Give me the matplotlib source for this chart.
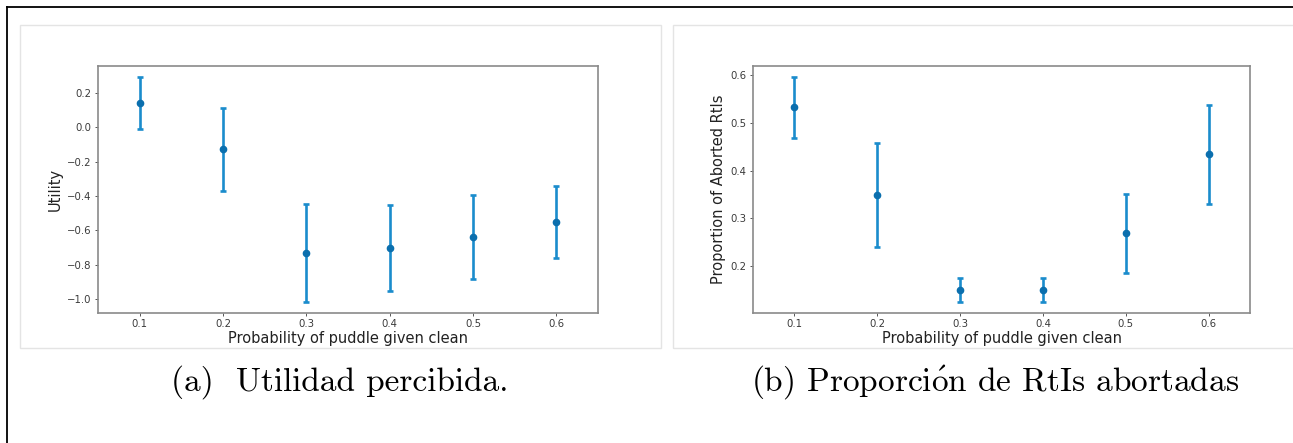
import matplotlib
matplotlib.use("Agg")
from matplotlib import pyplot as plt
from matplotlib.patches import Rectangle
from matplotlib.lines import Line2D

# probability of puddle given clean
prob = [0.1, 0.2, 0.3, 0.4, 0.5, 0.6]

# (a) perceived utility, mean and error
util_mean = [0.14, -0.13, -0.73, -0.705, -0.64, -0.55]
util_err = [0.15, 0.24, 0.285, 0.25, 0.243, 0.21]

# (b) proportion of aborted RtIs, mean and error
abort_mean = [0.532, 0.349, 0.151, 0.151, 0.269, 0.434]
abort_err = [0.063, 0.108, 0.025, 0.025, 0.083, 0.104]

captions = ["(a)  Utilidad percibida.",
            r"(b) Proporci$\mathrm{\acute{o}}$n de RtIs abortadas"]

plt.rcParams['mathtext.fontset'] = 'cm'

bar_col = '#1a8ccc'
dot_col = '#0b6fae'
spine_col = '#8a8a8a'

fig = plt.figure(figsize=(12.93, 4.43), dpi=100)
W, H = 1293.0, 443.0

# outer frame (top and left only)
fig.add_artist(Line2D([7/W, 1], [1-7/H, 1-7/H], transform=fig.transFigure, color='black', lw=1.3))
fig.add_artist(Line2D([7/W, 7/W], [0, 1-7/H], transform=fig.transFigure, color='black', lw=1.3))

# light panel borders round each sub-image
fig.add_artist(Rectangle((20/W, 1-348/H), 641/W, 323/H, transform=fig.transFigure,
                         fill=False, edgecolor='#e4e4e4', lw=1))
fig.add_artist(Rectangle((673/W, 1-348/H), 640/W, 323/H, transform=fig.transFigure,
                         fill=False, edgecolor='#e4e4e4', lw=1))

ax1 = fig.add_axes([98/W, 1-313/H, 500/W, 247/H])
ax2 = fig.add_axes([753/W, 1-313/H, 497/W, 247/H])

for ax, m, e, lab in [(ax1, util_mean, util_err, 'Utility'),
                      (ax2, abort_mean, abort_err, 'Proportion of Aborted RtIs')]:
    ax.errorbar(prob, m, yerr=e, fmt='o', color=dot_col, ecolor=bar_col,
                elinewidth=1.9, capsize=2, capthick=1.9, markersize=4.5)
    ax.set_xlim(0.05, 0.65)
    ax.set_xticks(prob)
    ax.set_xlabel('Probability of puddle given clean', fontsize=10.5, color='#222222', labelpad=1)
    ax.set_ylabel(lab, fontsize=10.5, color='#222222', labelpad=3)
    ax.tick_params(labelsize=7.3, colors='#3a3a3a', length=2.5, width=0.6, pad=2)
    for s in ax.spines.values():
        s.set_color(spine_col)
        s.set_linewidth(1.2)

ax1.set_yticks([0.2, 0.0, -0.2, -0.4, -0.6, -0.8, -1.0])
ax2.set_yticks([0.2, 0.3, 0.4, 0.5, 0.6])

fig.text(340/W, 1-382/H, captions[0], ha='center', va='center', fontsize=24,
         family=['cmr10', 'DejaVu Serif'])
fig.text(995/W, 1-382/H, captions[1], ha='center', va='center', fontsize=24,
         family=['cmr10', 'DejaVu Serif'])

fig.savefig('out.png', dpi=100)
